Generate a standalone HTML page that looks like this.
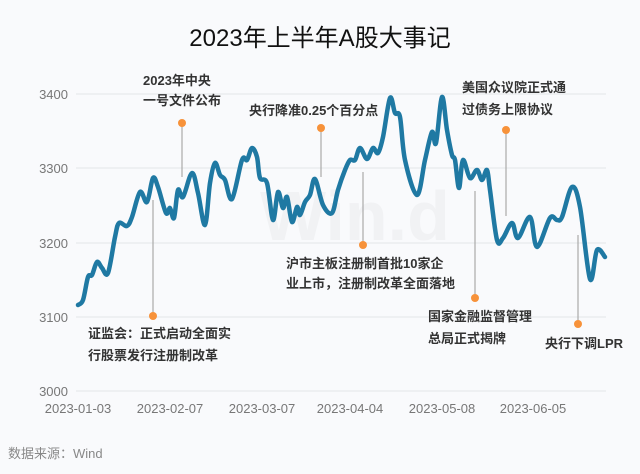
<!DOCTYPE html><html><head><meta charset="utf-8"><style>body{margin:0;background:#fafbfd}svg{display:block}text{font-family:"Liberation Sans","Noto Sans CJK SC",sans-serif}</style></head><body>
<svg width="640" height="474" viewBox="0 0 640 474">
<rect width="640" height="474" fill="#f9fafc"/>
<text x="320" y="46" text-anchor="middle" font-size="24" fill="#111">2023年上半年A股大事记</text>
<g stroke="#e3e5e8" stroke-width="1">
<line x1="76" x2="606" y1="94" y2="94"/><line x1="76" x2="606" y1="168" y2="168"/><line x1="76" x2="606" y1="243" y2="243"/><line x1="76" x2="606" y1="317" y2="317"/><line x1="76" x2="606" y1="391" y2="391"/></g>
<text x="260" y="240" font-size="70" font-weight="bold" fill="#f1f2f4">Win.d</text>
<g font-size="13" fill="#777" text-anchor="end"><text x="68" y="99">3400</text><text x="68" y="173">3300</text><text x="68" y="248">3200</text><text x="68" y="322">3100</text><text x="68" y="396">3000</text></g>
<g font-size="13" fill="#777" text-anchor="middle"><text x="78" y="413">2023-01-03</text><text x="170" y="413">2023-02-07</text><text x="262" y="413">2023-03-07</text><text x="350" y="413">2023-04-04</text><text x="442" y="413">2023-05-08</text><text x="533" y="413">2023-06-05</text></g>
<g stroke="#aaa" stroke-width="1.2">
<line x1="182" y1="123" x2="182" y2="177"/><line x1="153" y1="316" x2="153" y2="200"/><line x1="321" y1="128" x2="321" y2="177"/><line x1="363" y1="245" x2="363" y2="172"/><line x1="475" y1="298" x2="475" y2="191"/><line x1="506" y1="130" x2="506" y2="216"/><line x1="578" y1="324" x2="578" y2="235"/></g>
<path id="ln" fill="none" stroke="#1f79a3" stroke-width="4.5" stroke-linejoin="round" stroke-linecap="round" d=""/>
<g fill="#f7923a"><circle cx="182" cy="123" r="4"/><circle cx="153" cy="316" r="4"/><circle cx="321" cy="128" r="4"/><circle cx="363" cy="245" r="4"/><circle cx="475" cy="298" r="4"/><circle cx="506" cy="130" r="4"/><circle cx="578" cy="324" r="4"/></g>
<g font-size="13" font-weight="bold" fill="#333">
<text x="143" y="85">2023年中央</text><text x="143" y="105">一号文件公布</text>
<text x="249" y="115">央行降准0.25个百分点</text>
<text x="286" y="268">沪市主板注册制首批10家企</text><text x="286" y="288">业上市，注册制改革全面落地</text>
<text x="88" y="338">证监会：正式启动全面实</text><text x="88" y="360">行股票发行注册制改革</text>
<text x="462" y="92">美国众议院正式通</text><text x="462" y="114">过债务上限协议</text>
<text x="428" y="321">国家金融监督管理</text><text x="428" y="343">总局正式揭牌</text>
<text x="545" y="348">央行下调LPR</text></g>
<text x="8" y="458" font-size="13" fill="#888">数据来源：Wind</text>
</svg>
<script>
var s="78,305 83,300 88,277 92,275 97,262 102,268 108,273 115,237 119,223 127,226 132,217 140,192 147,202 153,178 158,187 166,213 170,208 174,218 178,190 183,197 192,173 198,193 205,225 210,183 215,163 220,175 225,180 232,199 242,160 247,160 252,148 257,157 260,178 267,183 273,220 278,192 283,208 287,197 292,222 297,207 300,215 305,202 310,195 315,179 323,205 332,213 338,190 345,170 350,160 355,160 360,148 367,159 373,148 378,153 383,137 390,98 395,113 400,117 405,160 417,195 425,160 432,132 436,143 442,97 447,130 452,155 455,160 459,188 463,160 470,178 477,170 482,180 487,170 490,190 497,240 503,238 512,223 518,238 530,217 537,247 550,218 557,220 562,217 572,187 580,207 590,279 597,250 605,257";
var p=s.split(" ").map(function(a){return a.split(",").map(Number)});
var d="M"+p[0][0]+","+p[0][1];
for(var i=0;i<p.length-1;i++){var a=p[Math.max(i-1,0)],b=p[i],c=p[i+1],e=p[Math.min(i+2,p.length-1)];
d+=" C"+(b[0]+(c[0]-a[0])/6)+","+(b[1]+(c[1]-a[1])/6)+" "+(c[0]-(e[0]-b[0])/6)+","+(c[1]-(e[1]-b[1])/6)+" "+c[0]+","+c[1];}
document.getElementById("ln").setAttribute("d",d);
</script></body></html>
